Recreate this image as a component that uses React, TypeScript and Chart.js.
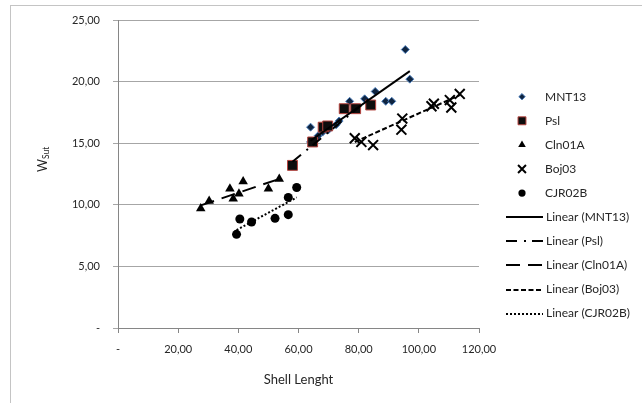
import React, { useEffect, useRef } from 'react';
import { Chart, registerables } from 'chart.js';
import { drawPoint } from 'chart.js/helpers';

Chart.register(...registerables);

// ---- data ----
const seriesNames = ['MNT13', 'Psl', 'Cln01A', 'Boj03', 'CJR02B'];

const mntX = [64, 64, 66.5, 68, 70, 72.5, 73.5, 77, 82, 85.5, 89, 91, 95.5, 97];
const mntY = [16.3, 15.1, 15.6, 15.9, 16.1, 16.5, 16.8, 18.4, 18.6, 19.2, 18.4, 18.4, 22.6, 20.2];

const pslX = [58, 64.7, 68.2, 69.7, 75.2, 79, 84];
const pslY = [13.2, 15.1, 16.3, 16.4, 17.8, 17.8, 18.1];

const clnX = [27.5, 30.3, 37.2, 38.3, 40.2, 41.6, 50, 53.6];
const clnY = [9.7, 10.3, 11.3, 10.5, 10.9, 11.9, 11.3, 12.1];

const bojX = [78.7, 80.9, 84.8, 94.2, 94.5, 104.2, 105, 110.3, 110.8, 113.6];
const bojY = [15.4, 15.1, 14.85, 16.1, 17.0, 18.0, 18.2, 18.5, 17.9, 19.0];

const cjrX = [39.4, 40.5, 44.4, 52.2, 56.6, 56.6, 59.4];
const cjrY = [7.6, 8.85, 8.6, 8.9, 9.2, 10.6, 11.4];

// trend line end points
const trendMntX = [64, 97];
const trendMntY = [15.2, 20.85];
const trendPslX = [58, 84];
const trendPslY = [13.5, 18.7];
const trendClnX = [27.5, 53.6];
const trendClnY = [9.95, 12.1];
const trendBojX = [78.7, 113.6];
const trendBojY = [15.1, 18.9];
const trendCjrX = [39.4, 59.4];
const trendCjrY = [7.95, 10.6];

const xMin = 0, xMax = 120, xStep = 20;
const yMin = 0, yMax = 25, yStep = 5;

const FONT = 'Lato';
const TEXT = '#262626';

const pts = (xs: number[], ys: number[]) => xs.map((x, i) => ({ x, y: ys[i] }));
const fmt = (v: number) => (v === 0 ? '-' : v.toFixed(2).replace('.', ','));

export default function App() {
  const ref = useRef<HTMLCanvasElement | null>(null);

  useEffect(() => {
    document.body.style.margin = '0';
    const canvas = ref.current;
    if (!canvas) return;

    const pointSets = [
      { label: seriesNames[0], data: pts(mntX, mntY), pointStyle: 'rectRot', pointRadius: 4, backgroundColor: '#0f2440', borderColor: '#4f81bd', pointBorderWidth: 1, order: 5 },
      { label: seriesNames[1], data: pts(pslX, pslY), pointStyle: 'rect', pointRadius: 7, backgroundColor: '#0d0d0d', borderColor: '#b5443f', pointBorderWidth: 1, order: 4 },
      { label: seriesNames[2], data: pts(clnX, clnY), pointStyle: 'triangle', pointRadius: 5.5, backgroundColor: '#000', borderColor: '#000', pointBorderWidth: 0, order: 3 },
      { label: seriesNames[3], data: pts(bojX, bojY), pointStyle: 'crossRot', pointRadius: 7, backgroundColor: '#000', borderColor: '#000', pointBorderWidth: 2, order: 2 },
      { label: seriesNames[4], data: pts(cjrX, cjrY), pointStyle: 'circle', pointRadius: 4.5, backgroundColor: '#000', borderColor: '#000', pointBorderWidth: 0, order: 1 },
    ].map((d) => ({ ...d, showLine: false, pointHoverRadius: d.pointRadius }));

    const trendSets = [
      { label: 'Linear (' + seriesNames[0] + ')', data: pts(trendMntX, trendMntY), borderDash: [] as number[] },
      { label: 'Linear (' + seriesNames[1] + ')', data: pts(trendPslX, trendPslY), borderDash: [11, 7, 2, 6] },
      { label: 'Linear (' + seriesNames[2] + ')', data: pts(trendClnX, trendClnY), borderDash: [14, 8] },
      { label: 'Linear (' + seriesNames[3] + ')', data: pts(trendBojX, trendBojY), borderDash: [5, 2.5] },
      { label: 'Linear (' + seriesNames[4] + ')', data: pts(trendCjrX, trendCjrY), borderDash: [2, 2] },
    ].map((d) => ({ ...d, showLine: true, pointRadius: 0, borderColor: '#000', backgroundColor: '#000', borderWidth: 2, order: 0 }));

    const frame = {
      id: 'frame',
      beforeDraw(chart: any) {
        const c = chart.ctx;
        c.save();
        c.fillStyle = '#fff';
        c.fillRect(0, 0, chart.width, chart.height);
        c.strokeStyle = '#c4c4c4';
        c.lineWidth = 1;
        c.strokeRect(10.5, 5.5, 1000, 1000);
        c.restore();
      },
    };

    const extras = {
      id: 'extras',
      afterDraw(chart: any) {
        const c = chart.ctx;
        const ca = chart.chartArea;
        c.save();
        // y-axis title with subscript
        c.fillStyle = TEXT;
        c.translate(ca.left - 76, ca.top + 140);
        c.rotate(-Math.PI / 2);
        c.textBaseline = 'alphabetic';
        c.textAlign = 'left';
        c.font = `12.5px ${FONT}`;
        const wW = c.measureText('W').width;
        c.fillText('W', -12, 5);
        c.font = `8.5px ${FONT}`;
        c.fillText('Sut', -12 + wW, 7);
        c.restore();

        // legend
        c.save();
        const y0 = ca.top + 76.7;
        const dy = 24.1;
        c.font = `12px ${FONT}`;
        c.textBaseline = 'middle';
        c.textAlign = 'left';
        const sets = chart.data.datasets;
        for (let i = 0; i < 5; i++) {
          const d = sets[i];
          const y = y0 + dy * i;
          const x = ca.right + 43;
          c.save();
          c.fillStyle = d.backgroundColor;
          c.strokeStyle = d.borderColor;
          c.lineWidth = d.pointBorderWidth;
          drawPoint(c, { pointStyle: d.pointStyle, rotation: 0, radius: d.pointRadius * 0.8, borderWidth: d.pointBorderWidth }, x, y);
          c.restore();
          c.fillStyle = TEXT;
          c.fillText(d.label, ca.right + 66, y);
        }
        for (let i = 5; i < 10; i++) {
          const d = sets[i];
          const y = y0 + dy * i;
          c.save();
          c.strokeStyle = '#000';
          c.lineWidth = 2;
          c.setLineDash(d.borderDash);
          c.beginPath();
          c.moveTo(ca.right + 27, Math.round(y) + 0);
          c.lineTo(ca.right + 64, Math.round(y) + 0);
          c.stroke();
          c.restore();
          c.fillStyle = TEXT;
          c.fillText(d.label, ca.right + 67, y);
        }
        c.restore();
      },
    };

    const chart = new Chart(canvas, {
      type: 'scatter',
      data: { datasets: [...pointSets, ...trendSets] as any },
      options: {
        responsive: false,
        animation: false,
        devicePixelRatio: 1,
        layout: { padding: { left: 0, top: 20, right: 163, bottom: 0 } },
        plugins: { legend: { display: false }, tooltip: { enabled: false } },
        scales: {
          x: {
            type: 'linear',
            min: xMin,
            max: xMax,
            ticks: { stepSize: xStep, callback: (v: any) => fmt(Number(v)), font: { family: FONT, size: 11 }, color: TEXT, padding: 10, maxRotation: 0 },
            grid: { display: true, drawOnChartArea: false, drawTicks: true, tickLength: 5, color: '#868686' },
            border: { display: true, color: '#868686' },
            title: { display: true, text: 'Shell Lenght', font: { family: FONT, size: 13 }, color: TEXT, padding: { top: 4, bottom: 15 } },
            afterFit: (s: any) => { s.height = 75; },
          },
          y: {
            type: 'linear',
            min: yMin,
            max: yMax,
            ticks: { stepSize: yStep, callback: (v: any) => fmt(Number(v)), font: { family: FONT, size: 11 }, color: TEXT, padding: 13 },
            grid: { color: '#a6a6a6', tickLength: 5, drawTicks: true },
            border: { display: true, color: '#868686' },
            afterFit: (s: any) => { s.width = 118; },
          },
        },
      } as any,
      plugins: [frame, extras],
    });

    return () => chart.destroy();
  }, []);

  return (
    <div style={{ position: 'absolute', left: 0, top: 0, width: 642, height: 403 }}>
      <canvas ref={ref} width={642} height={403} />
    </div>
  );
}
